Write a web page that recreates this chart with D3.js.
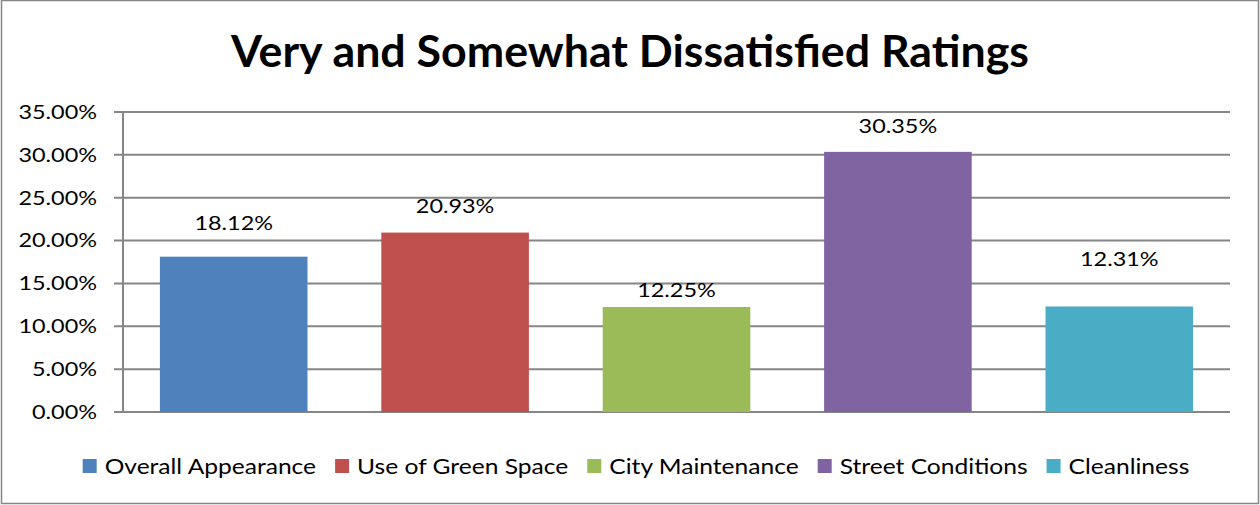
<!DOCTYPE html>
<html>
<head>
<meta charset="utf-8">
<script src="https://cdn.jsdelivr.net/npm/d3@7.9.0/dist/d3.min.js"></script>
<style>
  body { margin: 0; background: #fff; }
  svg text { font-family: Lato, "Open Sans", sans-serif; fill: #000; }
</style>
</head>
<body>
<svg id="chart" width="1260" height="505"></svg>
<script>
// data
const categories = ['Overall Appearance', 'Use of Green Space', 'City Maintenance', 'Street Conditions', 'Cleanliness'];
const values = [18.12, 20.93, 12.25, 30.35, 12.31];
const colors = ['#4F81BD', '#C0504D', '#9BBB59', '#8064A2', '#4BACC6'];
const yTicks = [0, 5, 10, 15, 20, 25, 30, 35];
// labels were nudged by hand in the original, gap above bar top in px
const labelGap = [27, 20, 10, 19, 40];

const svg = d3.select('#chart');
const W = 1260, H = 505;
const margin = { top: 112, right: 30, bottom: 93, left: 123 };
const pct = d => d3.format('.2f')(d) + '%';

// original text is a bit wider than Lato, stretch it horizontally
function stretch(sel, k) {
  sel.each(function() {
    let w = this.getComputedTextLength();
    d3.select(this).attr('textLength', w * k).attr('lengthAdjust', 'spacingAndGlyphs');
  });
}

// outer frame
svg.append('rect')
  .attr('x', 1.5).attr('y', 0.5)
  .attr('width', W - 3).attr('height', H - 2)
  .attr('fill', '#fff').attr('stroke', '#868686').attr('stroke-width', 1.5);

svg.append('text')
  .attr('x', 630).attr('y', 67)
  .attr('text-anchor', 'middle')
  .style('font-size', '43px').style('font-weight', 'bold')
  .text('Very and Somewhat Dissatisfied Ratings')
  .call(stretch, 1.04);

let x = d3.scaleBand()
  .domain(categories)
  .range([margin.left, W - margin.right])
  .paddingInner(1 / 3).paddingOuter(1 / 6);

let y = d3.scaleLinear().domain([0, 35]).range([H - margin.bottom, margin.top]);

// gridlines
svg.append('g')
  .selectAll('line')
  .data(yTicks)
  .join('line')
  .attr('x1', margin.left - 9).attr('x2', W - margin.right)
  .attr('y1', d => y(d)).attr('y2', d => y(d))
  .attr('stroke', '#868686').attr('stroke-width', 2);

// y axis labels
let yAxis = d3.axisLeft(y).tickValues(yTicks).tickFormat(pct).tickSize(0).tickPadding(26);
let yG = svg.append('g').attr('transform', `translate(${margin.left},0)`).call(yAxis);
yG.select('.domain').remove();
yG.selectAll('text')
  .style('font-size', '20px').style('font-family', 'Lato, sans-serif').attr('fill', '#000')
  .call(stretch, 1.17);

// bars
svg.append('g')
  .selectAll('rect')
  .data(values)
  .join('rect')
  .attr('x', (d, i) => x(categories[i]))
  .attr('y', d => y(d))
  .attr('width', x.bandwidth())
  .attr('height', d => y(0) - y(d))
  .attr('fill', (d, i) => colors[i]);

// vertical axis line
svg.append('line')
  .attr('x1', margin.left).attr('x2', margin.left)
  .attr('y1', margin.top).attr('y2', y(0))
  .attr('stroke', '#868686').attr('stroke-width', 2);

// value labels
svg.append('g')
  .selectAll('text')
  .data(values)
  .join('text')
  .attr('x', (d, i) => x(categories[i]) + x.bandwidth() / 2)
  .attr('y', (d, i) => y(d) - labelGap[i])
  .attr('text-anchor', 'middle')
  .style('font-size', '20px')
  .text(pct)
  .call(stretch, 1.17);

// legend, laid out left to right then centred
let legend = svg.append('g');
let cursor = 0;
categories.forEach((c, i) => {
  let g = legend.append('g').attr('transform', `translate(${cursor},0)`);
  g.append('rect').attr('x', 0).attr('y', -7).attr('width', 14).attr('height', 14).attr('fill', colors[i]);
  let t = g.append('text').attr('x', 22).attr('y', 7.5).style('font-size', '21px').text(c).call(stretch, 1.17);
  cursor += 22 + (+t.attr('textLength')) + 19;
});
let legendW = cursor - 19;
legend.attr('transform', `translate(${636 - legendW / 2},466)`);
</script>
</body>
</html>
